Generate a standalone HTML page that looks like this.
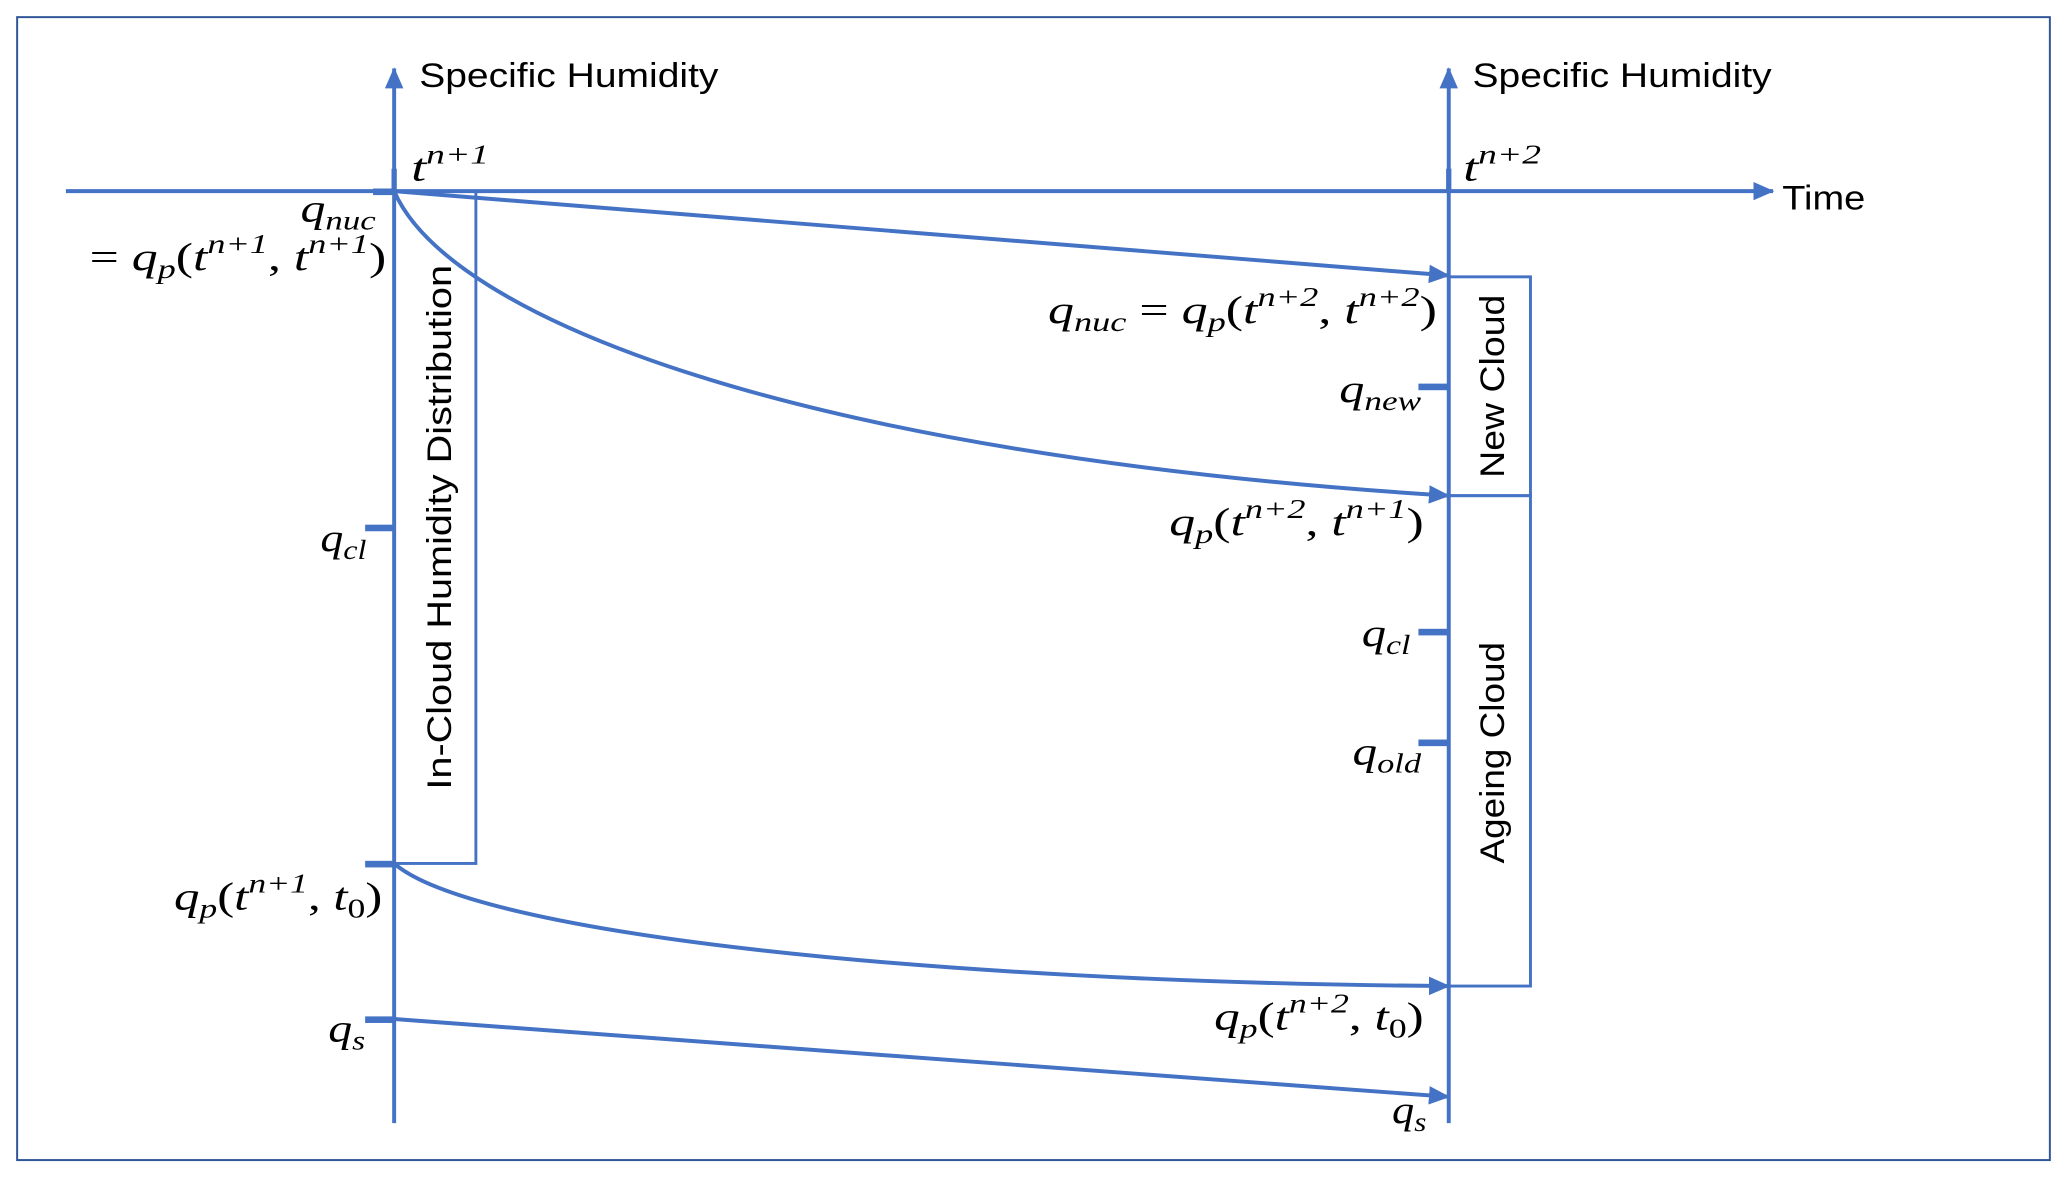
<!DOCTYPE html>
<html><head><style>html,body{margin:0;padding:0;background:#fff}svg{display:block}</style></head>
<body>
<svg width="2067" height="1178" viewBox="0 0 1568 893.6" preserveAspectRatio="none" xmlns="http://www.w3.org/2000/svg">
<defs>
<marker id="a" markerWidth="16" markerHeight="14" refX="15" refY="7" orient="auto" markerUnits="userSpaceOnUse" viewBox="0 0 16 14"><path d="M0,0 L16,7 L0,14 z" fill="#4472c4"/></marker>
<marker id="b" markerWidth="16" markerHeight="14" refX="15" refY="7" orient="auto" markerUnits="userSpaceOnUse" viewBox="0 0 16 14"><path d="M0,0 L16,7 L0,14 z" fill="#4472c4"/></marker>
</defs>
<rect x="13" y="13" width="1542" height="867" fill="none" stroke="#2f5597" stroke-width="1.5"/>
<g stroke="#4472c4" fill="none" stroke-width="3">
<line x1="50" y1="145" x2="1345" y2="145" marker-end="url(#b)"/>
<line x1="299" y1="852" x2="299" y2="52" marker-end="url(#b)"/>
<line x1="1099" y1="852" x2="1099" y2="52" marker-end="url(#b)"/>
<rect x="299" y="145" width="62" height="510" stroke-width="2.2"/>
<rect x="1099" y="210" width="62" height="166" stroke-width="2.2"/>
<rect x="1099" y="376" width="62" height="372" stroke-width="2.2"/>
<line x1="299" y1="145" x2="1099" y2="209" marker-end="url(#a)"/>
<path d="M299,145 C340,240 600,345 1099,376" marker-end="url(#a)"/>
<path d="M299,655 C360,708 700,745 1099,748" marker-end="url(#a)"/>
<line x1="299" y1="773" x2="1099" y2="832" marker-end="url(#a)"/>
</g>
<g fill="#4472c4">
<rect x="297" y="128" width="4" height="17"/>
<rect x="1097" y="128" width="4" height="17"/>
<rect x="283" y="143" width="16" height="5"/>
<rect x="277" y="398" width="22" height="5"/>
<rect x="277" y="653" width="22" height="5"/>
<rect x="277" y="771" width="22" height="5"/>
<rect x="1076" y="291" width="23" height="5"/>
<rect x="1076" y="477" width="23" height="5"/>
<rect x="1076" y="561" width="23" height="5"/>
</g>
<g font-family="Liberation Sans, sans-serif" font-size="26" fill="#000">
<text x="318" y="66" textLength="227" lengthAdjust="spacingAndGlyphs">Specific Humidity</text>
<text x="1117" y="66" textLength="227" lengthAdjust="spacingAndGlyphs">Specific Humidity</text>
<text x="1352" y="159" textLength="63" lengthAdjust="spacingAndGlyphs">Time</text>
<text transform="translate(342,400) rotate(-90)" text-anchor="middle" textLength="398" lengthAdjust="spacingAndGlyphs">In-Cloud Humidity Distribution</text>
<text transform="translate(1141,293) rotate(-90)" text-anchor="middle" textLength="139" lengthAdjust="spacingAndGlyphs">New Cloud</text>
<text transform="translate(1141,571) rotate(-90)" text-anchor="middle" textLength="168" lengthAdjust="spacingAndGlyphs">Ageing Cloud</text>
</g>
<g font-family="Liberation Serif, serif" font-style="italic" font-size="30" fill="#000">
<text x="312" y="137" textLength="59" lengthAdjust="spacingAndGlyphs">t<tspan font-size="21" dy="-13">n+1</tspan></text>
<text x="1110" y="137" textLength="59" lengthAdjust="spacingAndGlyphs">t<tspan font-size="21" dy="-13">n+2</tspan></text>
<text x="228" y="168" textLength="57" lengthAdjust="spacingAndGlyphs">q<tspan font-size="21" dy="6">nuc</tspan></text>
<text x="68" y="205" textLength="225" lengthAdjust="spacingAndGlyphs"><tspan font-style="normal">= </tspan>q<tspan font-size="21" dy="6">p</tspan><tspan dy="-6" font-style="normal">(</tspan>t<tspan font-size="21" dy="-13">n+1</tspan><tspan dy="13" font-style="normal">, </tspan>t<tspan font-size="21" dy="-13">n+1</tspan><tspan dy="13" font-style="normal">)</tspan></text>
<text x="243" y="418" textLength="35" lengthAdjust="spacingAndGlyphs">q<tspan font-size="21" dy="6">cl</tspan></text>
<text x="132" y="690" textLength="158" lengthAdjust="spacingAndGlyphs">q<tspan font-size="21" dy="6">p</tspan><tspan dy="-6" font-style="normal">(</tspan>t<tspan font-size="21" dy="-13">n+1</tspan><tspan dy="13" font-style="normal">, </tspan>t<tspan font-size="21" dy="6" font-style="normal">0</tspan><tspan dy="-6" font-style="normal">)</tspan></text>
<text x="249" y="790" textLength="28" lengthAdjust="spacingAndGlyphs">q<tspan font-size="21" dy="6">s</tspan></text>
<text x="795" y="245" textLength="295" lengthAdjust="spacingAndGlyphs">q<tspan font-size="21" dy="6">nuc</tspan><tspan dy="-6" font-style="normal"> = </tspan>q<tspan font-size="21" dy="6">p</tspan><tspan dy="-6" font-style="normal">(</tspan>t<tspan font-size="21" dy="-13">n+2</tspan><tspan dy="13" font-style="normal">, </tspan>t<tspan font-size="21" dy="-13">n+2</tspan><tspan dy="13" font-style="normal">)</tspan></text>
<text x="1016" y="305" textLength="62" lengthAdjust="spacingAndGlyphs">q<tspan font-size="21" dy="6">new</tspan></text>
<text x="887" y="406" textLength="193" lengthAdjust="spacingAndGlyphs">q<tspan font-size="21" dy="6">p</tspan><tspan dy="-6" font-style="normal">(</tspan>t<tspan font-size="21" dy="-13">n+2</tspan><tspan dy="13" font-style="normal">, </tspan>t<tspan font-size="21" dy="-13">n+1</tspan><tspan dy="13" font-style="normal">)</tspan></text>
<text x="1033" y="490" textLength="37" lengthAdjust="spacingAndGlyphs">q<tspan font-size="21" dy="6">cl</tspan></text>
<text x="1026" y="580" textLength="52" lengthAdjust="spacingAndGlyphs">q<tspan font-size="21" dy="6">old</tspan></text>
<text x="921" y="781" textLength="159" lengthAdjust="spacingAndGlyphs">q<tspan font-size="21" dy="6">p</tspan><tspan dy="-6" font-style="normal">(</tspan>t<tspan font-size="21" dy="-13">n+2</tspan><tspan dy="13" font-style="normal">, </tspan>t<tspan font-size="21" dy="6" font-style="normal">0</tspan><tspan dy="-6" font-style="normal">)</tspan></text>
<text x="1056" y="852" textLength="26" lengthAdjust="spacingAndGlyphs">q<tspan font-size="21" dy="6">s</tspan></text>
</g>
</svg>
</body></html>
